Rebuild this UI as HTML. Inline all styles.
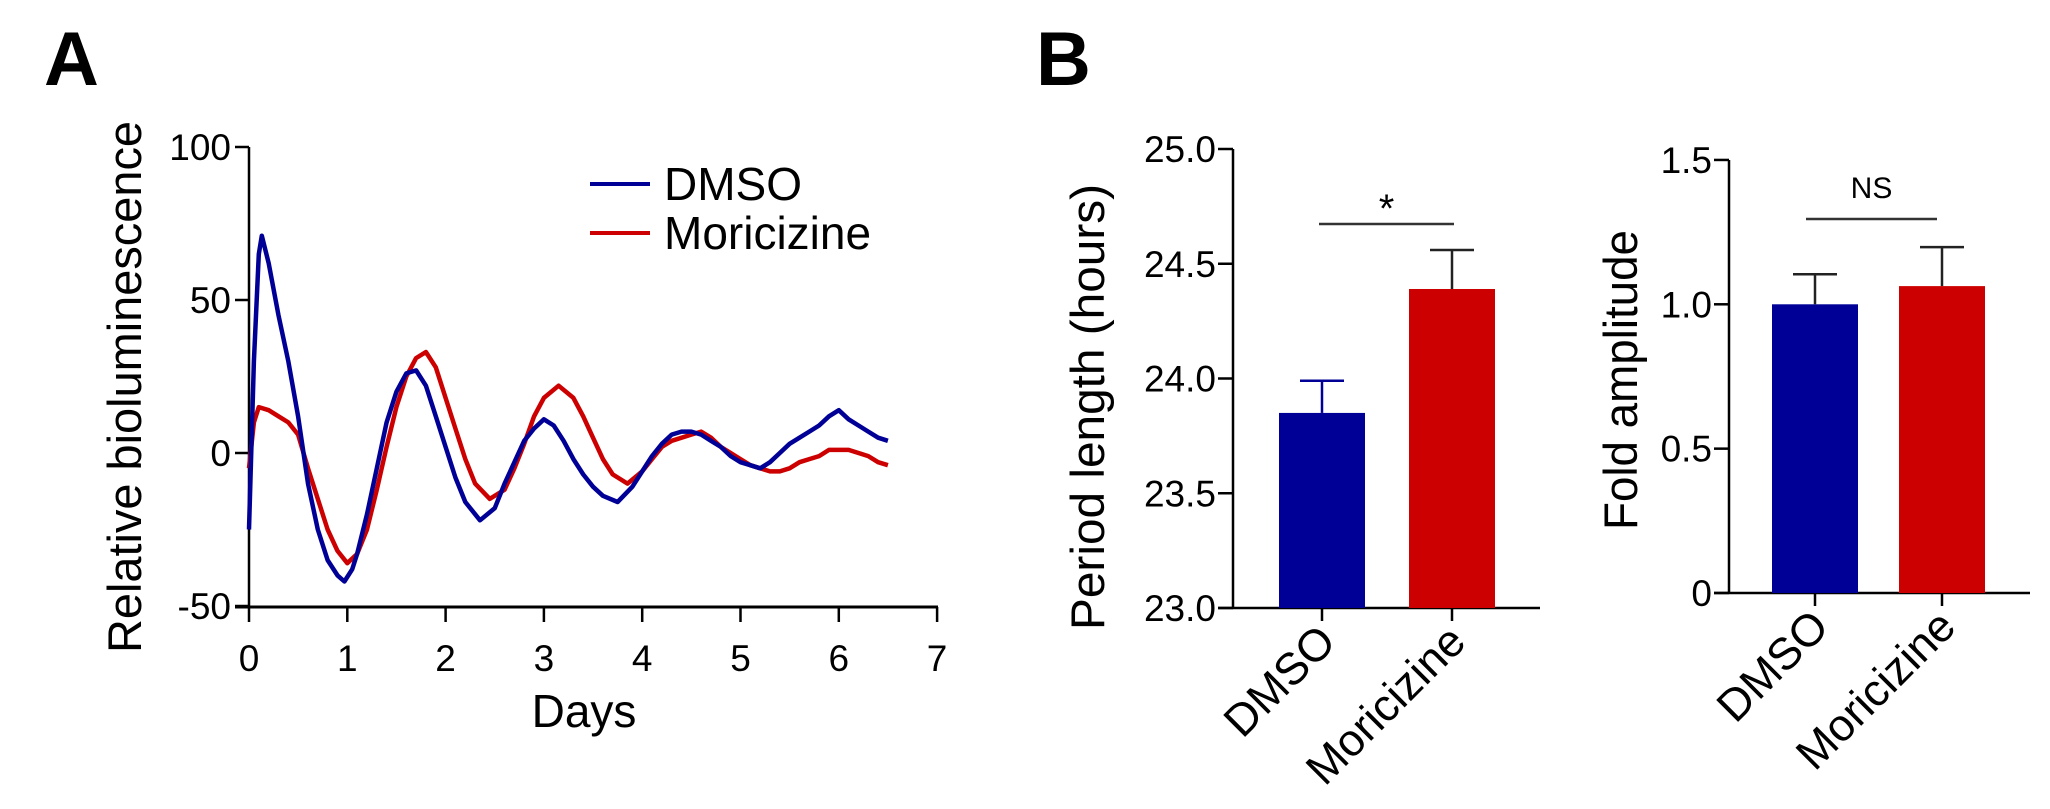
<!DOCTYPE html>
<html><head><meta charset="utf-8"><style>
html,body{margin:0;padding:0;background:#fff;}
svg{display:block;font-family:"Liberation Sans",Arial,sans-serif;}
</style></head><body>
<svg id="fig" width="2050" height="809" viewBox="0 0 2050 809" xmlns="http://www.w3.org/2000/svg">
<text x="44" y="85" font-size="76" font-weight="bold">A</text>
<text x="1036" y="85" font-size="76" font-weight="bold">B</text>
<g id="pa"></g>
<g id="pb1"></g>
<g id="pb2"></g>
</svg>
<script>
// Panel A data
const days = [0,0.05,0.1,0.13,0.2,0.3,0.4,0.5,0.6,0.7,0.8,0.9,0.97,1.05,1.1,1.2,1.3,1.4,1.5,1.6,1.7,1.8,1.9,2.0,2.1,2.2,2.35,2.5,2.6,2.7,2.8,2.9,3.0,3.1,3.2,3.3,3.4,3.5,3.6,3.75,3.9,4.0,4.1,4.2,4.3,4.4,4.5,4.6,4.7,4.8,4.9,5.0,5.1,5.2,5.3,5.4,5.5,5.6,5.7,5.8,5.9,6.0,6.1,6.2,6.3,6.4,6.5];
const dmso = [-25,30,65,71,62,45,30,12,-10,-25,-35,-40,-42,-38,-33,-20,-5,10,20,26,27,22,12,2,-8,-16,-22,-18,-10,-3,4,8,11,9,4,-2,-7,-11,-14,-16,-11,-6,-1,3,6,7,7,6,4,2,-1,-3,-4,-5,-3,0,3,5,7,9,12,14,11,9,7,5,4];
const daysR = [0,0.05,0.1,0.2,0.3,0.4,0.5,0.6,0.7,0.8,0.9,1.0,1.1,1.2,1.3,1.4,1.5,1.6,1.7,1.8,1.9,2.0,2.1,2.2,2.3,2.45,2.6,2.7,2.8,2.9,3.0,3.15,3.3,3.4,3.5,3.6,3.7,3.85,4.0,4.1,4.2,4.3,4.5,4.6,4.7,4.8,4.9,5.0,5.1,5.2,5.3,5.4,5.5,5.6,5.7,5.8,5.9,6.0,6.1,6.2,6.3,6.4,6.5];
const moricizine = [-5,10,15,14,12,10,6,-5,-15,-25,-32,-36,-33,-25,-12,2,15,25,31,33,28,18,8,-2,-10,-15,-12,-5,3,12,18,22,18,12,5,-2,-7,-10,-6,-2,2,4,6,7,5,2,0,-2,-4,-5,-6,-6,-5,-3,-2,-1,1,1,1,0,-1,-3,-4];
const aYTicks = [100,50,0,-50];
const aXTicks = [0,1,2,3,4,5,6,7];
// Panel B data
const groups = ["DMSO","Moricizine"];
const periodMean = [23.85,24.39];
const periodErr = [0.14,0.17];
const periodTicks = ["23.0","23.5","24.0","24.5","25.0"];
const ampMean = [1.0,1.063];
const ampErr = [0.104,0.135];
const ampTicks = ["0","0.5","1.0","1.5"];
const colors = ["#000096","#cc0000"];

const NS="http://www.w3.org/2000/svg";
function mk(parent,tag,attrs,text){const e=document.createElementNS(NS,tag);for(const k in attrs)e.setAttribute(k,attrs[k]);if(text!==undefined)e.textContent=text;parent.appendChild(e);return e;}

// Panel A
(function(){
  const g=document.getElementById('pa');
  const xA=d=>249+d*98.3, yA=v=>453-v*3.06;
  let e;
  e=mk(g,'line',{x1:249,y1:147,x2:249,y2:607,stroke:'#000','stroke-width':2.5});
  
  
  e=mk(g,'line',{x1:235,y1:607,x2:938,y2:607,stroke:'#000','stroke-width':3});
  
  
  aYTicks.forEach(v=>{
    e=mk(g,'line',{x1:235,y1:yA(v),x2:249,y2:yA(v),stroke:'#000','stroke-width':2.5});
    
    
    e=mk(g,'text',{x:231,y:yA(v)+13,'font-size':37,'text-anchor':'end'},String(v));
    
    
  });
  aXTicks.forEach(d=>{
    e=mk(g,'line',{x1:xA(d),y1:607,x2:xA(d),y2:622,stroke:'#000','stroke-width':2.5});
    
    
    e=mk(g,'text',{x:xA(d),y:671,'font-size':37,'text-anchor':'middle'},String(d));
    
    
  });
  e=mk(g,'text',{x:584,y:727,'font-size':46,'text-anchor':'middle'},'Days');
  
  
  e=mk(g,'text',{x:0,y:0,'font-size':47,'text-anchor':'middle',transform:'translate(141,387) rotate(-90)',textLength:532,lengthAdjust:'spacingAndGlyphs'},'Relative bioluminescence');
  
  
  const pts=(xs,ys)=>xs.map((d,i)=>xA(d).toFixed(1)+','+yA(ys[i]).toFixed(1)).join(' ');
  e=mk(g,'polyline',{points:pts(daysR,moricizine),fill:'none',stroke:colors[1],'stroke-width':4.5,'stroke-linejoin':'round'});
  
  
  e=mk(g,'polyline',{points:pts(days,dmso),fill:'none',stroke:colors[0],'stroke-width':4.5,'stroke-linejoin':'round'});
  
  
  const leg=mk(g,'g',{});
  
  
  groups.forEach((n,i)=>{
    const ly=184+i*49;
    e=mk(leg,'line',{x1:590,y1:ly,x2:650,y2:ly,stroke:colors[i],'stroke-width':4});
    
    
    e=mk(leg,'text',{x:664,y:ly+16,'font-size':46},n);
    
    
  });
})();

function barChart(g,o){
  let e;
  const y=v=>o.base-(v-o.min)*o.scale;
  e=mk(g,'line',{x1:o.ax,y1:y(o.max),x2:o.ax,y2:o.base,stroke:'#000','stroke-width':2.5});
  
  
  e=mk(g,'line',{x1:o.ax-15,y1:o.base,x2:o.xend,y2:o.base,stroke:'#000','stroke-width':2.5});
  
  
  o.ticks.forEach(t=>{
    const v=parseFloat(t);
    e=mk(g,'line',{x1:o.ax-15,y1:y(v),x2:o.ax,y2:y(v),stroke:'#000','stroke-width':2.5});
    
    
    e=mk(g,'text',{x:o.ax-17,y:y(v)+13,'font-size':37,'text-anchor':'end'},t);
    
    
  });
  e=mk(g,'text',{x:0,y:0,'font-size':47,'text-anchor':'middle',transform:`translate(${o.tx},${o.ty}) rotate(-90)`,textLength:o.tl,lengthAdjust:'spacingAndGlyphs'},o.title);
  
  
  const cx=[];
  groups.forEach((n,i)=>{
    const x0=o.bx[i], c=x0+o.bw/2; cx.push(c);
    e=mk(g,'rect',{x:x0,y:y(o.mean[i]),width:o.bw,height:o.base-y(o.mean[i]),fill:colors[i]});
    
    
    const top=y(o.mean[i]+o.err[i]);
    const ec=i===0&&o.blueErr?colors[0]:'#222';
    e=mk(g,'line',{x1:c,y1:y(o.mean[i]),x2:c,y2:top,stroke:ec,'stroke-width':2.5});
    
    
    e=mk(g,'line',{x1:c-22,y1:top,x2:c+22,y2:top,stroke:ec,'stroke-width':2.5});
    
    
    e=mk(g,'line',{x1:c,y1:o.base,x2:c,y2:o.base+13,stroke:'#000','stroke-width':2.5});
    
    
    e=mk(g,'text',{x:0,y:0,'font-size':45,'text-anchor':'end',transform:`translate(${c+16},${o.base+36}) rotate(-45)`},n);
    
    
  });
  e=mk(g,'line',{x1:o.sx[0],y1:o.sy,x2:o.sx[1],y2:o.sy,stroke:'#333','stroke-width':2.5});
  
  
  e=mk(g,'text',{x:(o.sx[0]+o.sx[1])/2,y:o.sy+o.sdy,'font-size':o.sfs,'text-anchor':'middle'},o.sig);
  
  
}
barChart(document.getElementById('pb1'),{ax:1233,base:608,min:23,max:25,scale:229.5,xend:1540,ticks:periodTicks,mean:periodMean,err:periodErr,bx:[1279,1409],bw:86,title:'Period length (hours)',tx:1104,ty:407,tl:446,sx:[1319,1454],sy:224,sig:'*',sdy:-2,sfs:40,blueErr:true});
barChart(document.getElementById('pb2'),{ax:1729,base:593,min:0,max:1.5,scale:288.7,xend:2030,ticks:ampTicks,mean:ampMean,err:ampErr,bx:[1772,1899],bw:86,title:'Fold amplitude',tx:1637,ty:380,tl:300,sx:[1806,1937],sy:219,sig:'NS',sdy:-21,sfs:30,blueErr:false});
</script>
</body></html>
